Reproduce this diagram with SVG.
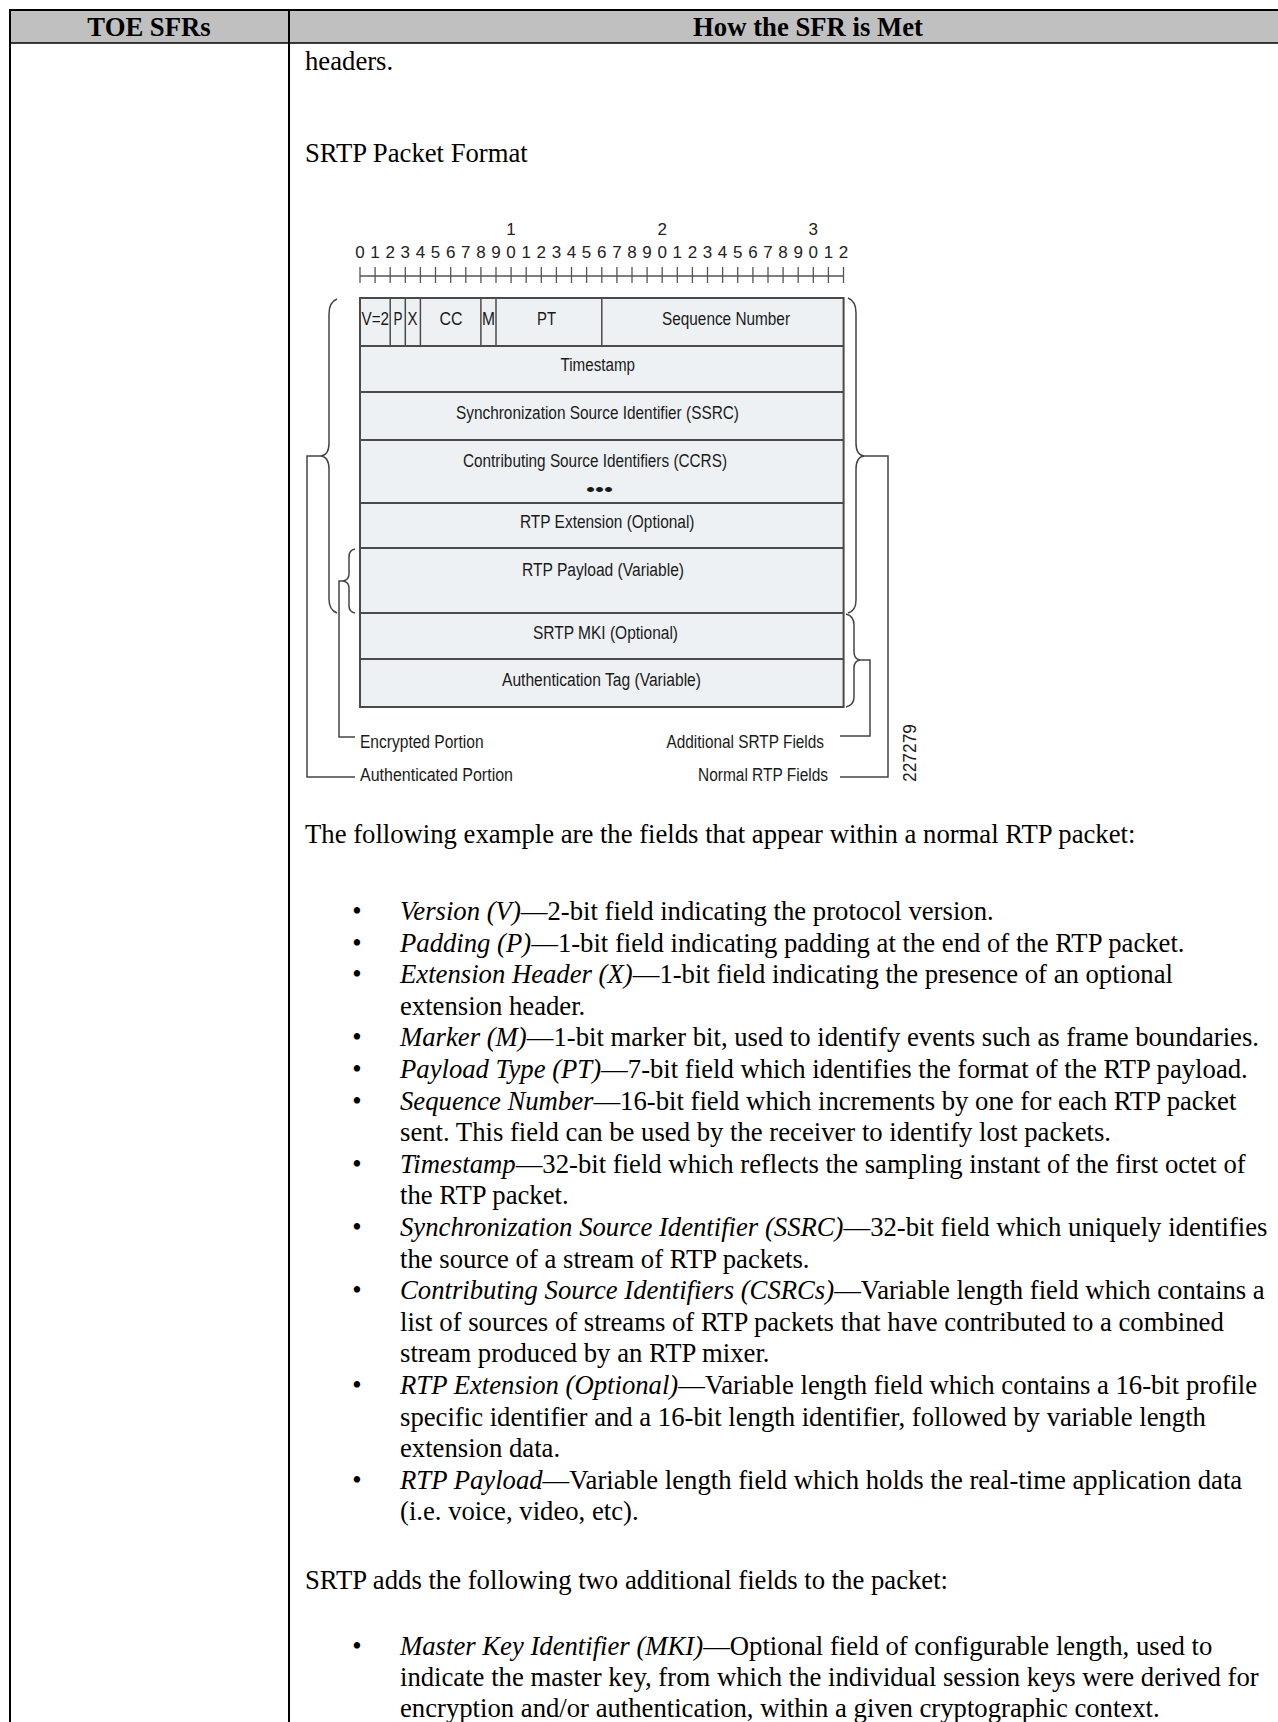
<svg xmlns="http://www.w3.org/2000/svg" width="1278" height="1722" viewBox="0 0 1278 1722">
<style>
.body{font-family:"Liberation Serif","Times New Roman",serif;font-size:26.7px;fill:#000}
.hd{font-family:"Liberation Serif","Times New Roman",serif;font-size:26.7px;font-weight:bold;fill:#000;text-anchor:middle}
.it{font-style:italic}
.dg{font-family:"Liberation Sans",Arial,sans-serif;font-size:18px;fill:#1a1a1a}
.dig{font-family:"Liberation Sans",Arial,sans-serif;font-size:17px;fill:#222;text-anchor:middle}
.row{fill:#eef1f4;stroke:#4a4a4a;stroke-width:2}
.sep{stroke:#4a4a4a;stroke-width:2}
.vsep{stroke:#4a4a4a;stroke-width:1.5}
.br{fill:none;stroke:#444;stroke-width:1.5}
.tick{stroke:#555;stroke-width:1.3}
.grid{stroke:#000;fill:none}
</style>

<g id="table">
<rect x="10" y="10" width="1268" height="33" fill="#c0c0c0"/>
<line class="grid" x1="9" y1="10" x2="1278" y2="10" stroke-width="2"/>
<line class="grid" x1="10" y1="43" x2="1278" y2="43" stroke-width="1.5"/>
<line class="grid" x1="10" y1="9" x2="10" y2="1722" stroke-width="2"/>
<line class="grid" x1="289" y1="10" x2="289" y2="1722" stroke-width="2"/>
<text class="hd" x="149" y="36">TOE SFRs</text>
<text class="hd" x="808" y="36">How the SFR is Met</text>
</g>

<g id="intro">
<text class="body" x="305" y="70">headers.</text>
<text class="body" x="305" y="162">SRTP Packet Format</text>
</g>

<g id="ruler">
<line class="tick" x1="360" y1="276" x2="843.6" y2="276"/>
<path class="tick" d="M360,267V283M375.1,267V283M390.2,267V283M405.3,267V283M420.4,267V283M435.5,267V283M450.7,267V283M465.8,267V283M480.9,267V283M496,267V283M511.1,267V283M526.2,267V283M541.3,267V283M556.4,267V283M571.5,267V283M586.6,267V283M601.8,267V283M616.9,267V283M632,267V283M647.1,267V283M662.2,267V283M677.3,267V283M692.4,267V283M707.5,267V283M722.6,267V283M737.7,267V283M752.9,267V283M768,267V283M783.1,267V283M798.2,267V283M813.3,267V283M828.4,267V283M843.5,267V283"/>
<text class="dig" y="258"><tspan x="360">0</tspan><tspan x="375.1">1</tspan><tspan x="390.2">2</tspan><tspan x="405.3">3</tspan><tspan x="420.4">4</tspan><tspan x="435.5">5</tspan><tspan x="450.7">6</tspan><tspan x="465.8">7</tspan><tspan x="480.9">8</tspan><tspan x="496">9</tspan><tspan x="511.1">0</tspan><tspan x="526.2">1</tspan><tspan x="541.3">2</tspan><tspan x="556.4">3</tspan><tspan x="571.5">4</tspan><tspan x="586.6">5</tspan><tspan x="601.8">6</tspan><tspan x="616.9">7</tspan><tspan x="632">8</tspan><tspan x="647.1">9</tspan><tspan x="662.2">0</tspan><tspan x="677.3">1</tspan><tspan x="692.4">2</tspan><tspan x="707.5">3</tspan><tspan x="722.6">4</tspan><tspan x="737.7">5</tspan><tspan x="752.9">6</tspan><tspan x="768">7</tspan><tspan x="783.1">8</tspan><tspan x="798.2">9</tspan><tspan x="813.3">0</tspan><tspan x="828.4">1</tspan><tspan x="843.5">2</tspan></text>
<text class="dig" y="235"><tspan x="511.1">1</tspan><tspan x="662.2">2</tspan><tspan x="813.3">3</tspan></text>
</g>

<g id="packet">
<rect class="row" x="360" y="298" width="483.6" height="409"/>
<line class="sep" x1="360" y1="346" x2="843.6" y2="346"/>
<line class="sep" x1="360" y1="392" x2="843.6" y2="392"/>
<line class="sep" x1="360" y1="440" x2="843.6" y2="440"/>
<line class="sep" x1="360" y1="503" x2="843.6" y2="503"/>
<line class="sep" x1="360" y1="548" x2="843.6" y2="548"/>
<line class="sep" x1="360" y1="613" x2="843.6" y2="613"/>
<line class="sep" x1="360" y1="659" x2="843.6" y2="659"/>
<line class="vsep" x1="390.2" y1="298" x2="390.2" y2="346"/>
<line class="vsep" x1="405.3" y1="298" x2="405.3" y2="346"/>
<line class="vsep" x1="420.4" y1="298" x2="420.4" y2="346"/>
<line class="vsep" x1="480.9" y1="298" x2="480.9" y2="346"/>
<line class="vsep" x1="496" y1="298" x2="496" y2="346"/>
<line class="vsep" x1="601.8" y1="298" x2="601.8" y2="346"/>
<text class="dg" x="361.5" y="325" textLength="27.5" lengthAdjust="spacingAndGlyphs">V=2</text>
<text class="dg" x="393.5" y="325" textLength="9" lengthAdjust="spacingAndGlyphs">P</text>
<text class="dg" x="407.5" y="325" textLength="10" lengthAdjust="spacingAndGlyphs">X</text>
<text class="dg" x="439.5" y="325" textLength="23" lengthAdjust="spacingAndGlyphs">CC</text>
<text class="dg" x="482" y="325" textLength="13" lengthAdjust="spacingAndGlyphs">M</text>
<text class="dg" x="537" y="325" textLength="19" lengthAdjust="spacingAndGlyphs">PT</text>
<text class="dg" x="662" y="325" textLength="128" lengthAdjust="spacingAndGlyphs">Sequence Number</text>
<text class="dg" x="560.5" y="371" textLength="74.5" lengthAdjust="spacingAndGlyphs">Timestamp</text>
<text class="dg" x="456" y="419" textLength="283" lengthAdjust="spacingAndGlyphs">Synchronization Source Identifier (SSRC)</text>
<text class="dg" x="463" y="467" textLength="264" lengthAdjust="spacingAndGlyphs">Contributing Source Identifiers (CCRS)</text>
<text class="dg" x="586" y="496" font-size="20" textLength="27" lengthAdjust="spacingAndGlyphs">•••</text>
<text class="dg" x="520" y="528" textLength="174.5" lengthAdjust="spacingAndGlyphs">RTP Extension (Optional)</text>
<text class="dg" x="522" y="576" textLength="162" lengthAdjust="spacingAndGlyphs">RTP Payload (Variable)</text>
<text class="dg" x="533" y="639" textLength="145" lengthAdjust="spacingAndGlyphs">SRTP MKI (Optional)</text>
<text class="dg" x="502" y="686" textLength="199" lengthAdjust="spacingAndGlyphs">Authentication Tag (Variable)</text>
</g>

<g id="connectors">
<path class="br" d="M337,299 Q329,302 329,314 L329,443 Q329,455 321,456 Q329,457 329,469 L329,599 Q329,610 337,613"/>
<path class="br" d="M321,456 L307,456 L307,777 L355,777"/>
<path class="br" d="M355,549 Q349,550 349,557 L349,574 Q349,580 343,581 Q349,582 349,588 L349,606 Q349,612 355,613"/>
<path class="br" d="M343,581 L339,581 L339,737 L355,737"/>
<path class="br" d="M848,298 Q856,301 856,313 L856,443 Q856,455 864,456 Q856,457 856,469 L856,600 Q856,611 848,613"/>
<path class="br" d="M864,456 L888,456 L888,777 L840,777"/>
<path class="br" d="M846,614 Q854,616 854,625 L854,652 Q854,659 860,660 Q854,661 854,668 L854,697 Q854,705 846,707"/>
<path class="br" d="M860,660 L870,660 L870,736 L840,736"/>
</g>

<g id="legend">
<text class="dg" x="360" y="748" textLength="123.6" lengthAdjust="spacingAndGlyphs">Encrypted Portion</text>
<text class="dg" x="360" y="781" textLength="153" lengthAdjust="spacingAndGlyphs">Authenticated  Portion</text>
<text class="dg" x="666.5" y="748" textLength="157.5" lengthAdjust="spacingAndGlyphs">Additional SRTP Fields</text>
<text class="dg" x="698" y="781" textLength="130" lengthAdjust="spacingAndGlyphs">Normal RTP Fields</text>
<text class="dg" transform="translate(916,782) rotate(-90)" x="0" y="0" font-size="10" fill="#555" textLength="58" lengthAdjust="spacingAndGlyphs">227279</text>
</g>

<g id="list">
<text class="body" x="305" y="843">The following example are the fields that appear within a normal RTP packet:</text>
<g class="body" text-anchor="middle">
<text x="357" y="920">•</text>
<text x="357" y="951.6">•</text>
<text x="357" y="983.2">•</text>
<text x="357" y="1046.4">•</text>
<text x="357" y="1078">•</text>
<text x="357" y="1109.6">•</text>
<text x="357" y="1172.8">•</text>
<text x="357" y="1236">•</text>
<text x="357" y="1299.2">•</text>
<text x="357" y="1394">•</text>
<text x="357" y="1488.8">•</text>
<text x="357" y="1655">•</text>
</g>
<text class="body" x="400" y="920"><tspan class="it">Version (V)</tspan>—2-bit field indicating the protocol version.</text>
<text class="body" x="400" y="951.6"><tspan class="it">Padding (P)</tspan>—1-bit field indicating padding at the end of the RTP packet.</text>
<text class="body" x="400" y="983.2"><tspan class="it">Extension Header (X)</tspan>—1-bit field indicating the presence of an optional</text>
<text class="body" x="400" y="1014.8">extension header.</text>
<text class="body" x="400" y="1046.4"><tspan class="it">Marker (M)</tspan>—1-bit marker bit, used to identify events such as frame boundaries.</text>
<text class="body" x="400" y="1078"><tspan class="it">Payload Type (PT)</tspan>—7-bit field which identifies the format of the RTP payload.</text>
<text class="body" x="400" y="1109.6"><tspan class="it">Sequence Number</tspan>—16-bit field which increments by one for each RTP packet</text>
<text class="body" x="400" y="1141.2">sent. This field can be used by the receiver to identify lost packets.</text>
<text class="body" x="400" y="1172.8"><tspan class="it">Timestamp</tspan>—32-bit field which reflects the sampling instant of the first octet of</text>
<text class="body" x="400" y="1204.4">the RTP packet.</text>
<text class="body" x="400" y="1236"><tspan class="it">Synchronization Source Identifier (SSRC)</tspan>—32-bit field which uniquely identifies</text>
<text class="body" x="400" y="1267.6">the source of a stream of RTP packets.</text>
<text class="body" x="400" y="1299.2"><tspan class="it">Contributing Source Identifiers (CSRCs)</tspan>—Variable length field which contains a</text>
<text class="body" x="400" y="1330.8">list of sources of streams of RTP packets that have contributed to a combined</text>
<text class="body" x="400" y="1362.4">stream produced by an RTP mixer.</text>
<text class="body" x="400" y="1394"><tspan class="it">RTP Extension (Optional)</tspan>—Variable length field which contains a 16-bit profile</text>
<text class="body" x="400" y="1425.6">specific identifier and a 16-bit length identifier, followed by variable length</text>
<text class="body" x="400" y="1457.2">extension data.</text>
<text class="body" x="400" y="1488.8"><tspan class="it">RTP Payload</tspan>—Variable length field which holds the real-time application data</text>
<text class="body" x="400" y="1520.4">(i.e. voice, video, etc).</text>
<text class="body" x="305" y="1589">SRTP adds the following two additional fields to the packet:</text>
<text class="body" x="400" y="1655"><tspan class="it">Master Key Identifier (MKI)</tspan>—Optional field of configurable length, used to</text>
<text class="body" x="400" y="1686">indicate the master key, from which the individual session keys were derived for</text>
<text class="body" x="400" y="1717">encryption and/or authentication, within a given cryptographic context.</text>
</g>
</svg>
